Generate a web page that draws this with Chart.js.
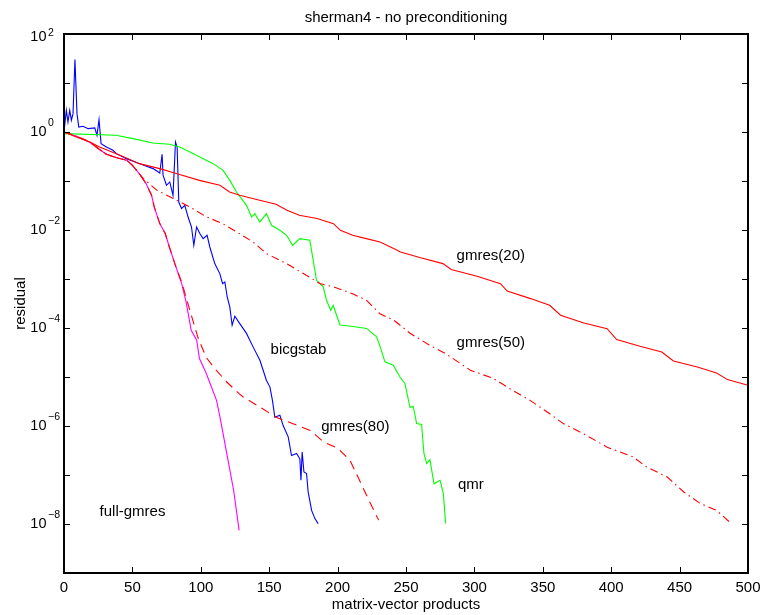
<!DOCTYPE html>
<html>
<head>
<meta charset="utf-8">
<title>sherman4 - no preconditioning</title>
<script src="https://cdn.jsdelivr.net/npm/chart.js@4/dist/chart.umd.min.js"></script>
<style>
  html, body { margin: 0; padding: 0; background: #fff; }
  canvas { display: block; }
</style>
</head>
<body>
<canvas id="grafico-residuo" width="762" height="615"></canvas>
<script>
// Ticks dos eixos
const ticksX = [0, 50, 100, 150, 200, 250, 300, 350, 400, 450, 500];
const decadasY = [1, -1, -3, -5, -7]; // ticks sem rotulo
const expoentesRotulados = [2, 0, -2, -4, -6, -8];

// full-gmres
const xFullGmres = [0, 9, 16, 21, 26, 31, 38, 46, 50, 55, 60, 64, 66, 70, 74, 77, 81, 86, 89, 93, 97, 99, 103, 105, 111.5, 114, 119, 124, 128];
const resFullGmres = [1, 0.817, 0.678, 0.561, 0.438, 0.351, 0.301, 0.264, 0.209, 0.142, 0.0885, 0.0511, 0.0294, 0.0135, 0.00845, 0.0045, 0.00206, 8.05e-4, 3.67e-4, 8.97e-5, 5.62e-5, 2.38e-5, 1.38e-5, 1.0e-5, 3.34e-6, 1.53e-6, 2.74e-7, 4.88e-8, 7.43e-9];

// gmres(80)
const xGmres80 = [0, 9, 16, 21, 26, 31, 38, 46, 50, 55, 60, 64, 66, 70, 74, 77, 81, 86, 92, 98, 104, 110, 119, 128, 131, 143, 155, 167, 180, 190, 200, 209, 216, 223, 230];
const resGmres80 = [1, 0.817, 0.678, 0.561, 0.438, 0.351, 0.301, 0.264, 0.209, 0.142, 0.0885, 0.0511, 0.0294, 0.0135, 0.00845, 0.0045, 0.00206, 8.7e-4, 2.29e-4, 6.3e-5, 2.5e-5, 1.51e-5, 7.9e-6, 4.57e-6, 3.9e-6, 2.45e-6, 1.51e-6, 1.12e-6, 8.1e-7, 4.68e-7, 3.55e-7, 2.0e-7, 7.8e-8, 3.0e-8, 1.2e-8];

// gmres(50)
const xGmres50 = [0, 9, 16, 21, 26, 31, 38, 46, 50, 55, 58, 68, 80, 92, 104, 116, 128, 138, 148, 163, 175, 187, 197, 211, 221, 231, 241, 253, 267, 279, 297, 314, 326, 341, 353, 365, 380, 397, 416, 426, 441, 453, 465, 477, 487];
const resGmres50 = [1, 0.817, 0.678, 0.561, 0.438, 0.351, 0.301, 0.264, 0.209, 0.142, 0.112, 0.0646, 0.0437, 0.0295, 0.0186, 0.0135, 0.0085, 0.00575, 0.00331, 0.00204, 0.00129, 8.1e-4, 6.9e-4, 5.0e-4, 3.7e-4, 1.95e-4, 1.45e-4, 7.8e-5, 4.5e-5, 3.0e-5, 1.38e-5, 9.3e-6, 5.75e-6, 3.3e-6, 1.95e-6, 1.12e-6, 6.9e-7, 3.7e-7, 2.34e-7, 1.45e-7, 9.1e-8, 4.5e-8, 2.63e-8, 1.9e-8, 1.07e-8];

// gmres(20)
const xGmres20 = [0, 9, 19, 26, 41, 55, 70, 82, 99, 114, 121, 128.5, 143, 155, 163, 172, 185, 197, 202, 211, 221, 231, 241, 246, 260, 277, 283, 302, 319, 324, 341, 355, 363, 380, 397, 404, 421, 437, 445.5, 463, 477, 485, 500];
const resGmres20 = [1, 0.79, 0.625, 0.494, 0.334, 0.226, 0.179, 0.142, 0.103, 0.0817, 0.0597, 0.0512, 0.0404, 0.0334, 0.0252, 0.020, 0.0171, 0.0135, 0.00986, 0.0078, 0.00667, 0.00569, 0.00417, 0.00356, 0.00274, 0.00206, 0.00156, 0.00114, 8.05e-4, 5.69e-4, 3.98e-4, 2.9e-4, 1.82e-4, 1.26e-4, 9.7e-5, 5.8e-5, 4.24e-5, 3.24e-5, 2.12e-5, 1.6e-5, 1.21e-5, 8.85e-6, 6.78e-6];

// bicgstab
const xBicgstab = [0, 1.7, 2.9, 4.2, 5.4, 6.6, 8, 9.5, 10.8, 13.9, 17.6, 22.5, 24.1, 25.6, 27.1, 31, 35.8, 38.3, 45.6, 55.4, 65.1, 70, 71.7, 72.4, 74.9, 77.3, 79.7, 81.5, 82.7, 83.9, 85.9, 88.3, 90.7, 93.2, 94.9, 96.9, 99.3, 101.7, 104.6, 106.6, 110.2, 113.9, 115.9, 117.6, 119.3, 121.2, 122.9, 124.9, 128.5, 133.4, 138.3, 143.2, 148, 150.5, 152.4, 154.1, 157.8, 160.2, 163.9, 166.3, 170, 172.4, 173.2, 174.1, 175.4, 177.3, 178.5, 181, 183.4, 185.8];
const resBicgstab = [1, 2.77, 1.6, 2.77, 1.74, 2.37, 30.1, 2.37, 1.26, 1.31, 1.17, 1.21, 0.857, 1.79, 0.579, 0.494, 0.424, 0.362, 0.286, 0.226, 0.179, 0.146, 0.351, 0.131, 0.0817, 0.0955, 0.051, 0.625, 0.494, 0.0372, 0.0274, 0.0319, 0.0184, 0.0115, 0.00488, 0.0115, 0.00845, 0.00667, 0.0078, 0.0045, 0.00206, 0.00129, 8.05e-4, 8.7e-4, 4.3e-4, 2.69e-4, 1.14e-4, 1.74e-4, 1.23e-4, 7.76e-5, 4.07e-5, 2.19e-5, 8.5e-6, 6.3e-6, 3.3e-6, 1.51e-6, 1.66e-6, 1.02e-6, 6.0e-7, 2.5e-7, 2.75e-7, 2.14e-7, 7.8e-8, 2.95e-7, 1.15e-7, 1.07e-7, 4.47e-8, 1.9e-8, 1.29e-8, 1.02e-8];

// qmr
const xQmr = [0, 38, 50.5, 65, 77, 84.6, 89.5, 99.3, 109, 116.3, 121.2, 126.1, 133.4, 137.1, 139.5, 143.2, 148, 151.7, 157.8, 162.7, 167.1, 172.4, 179.7, 184.6, 189.5, 191.9, 195, 196.8, 201.7, 211.4, 221.2, 228.5, 231, 234.6, 240.7, 245.6, 249.2, 252.9, 255.3, 257.8, 261.4, 263.1, 265.1, 267.5, 270.5, 274.9, 277.3, 279];
const resQmr = [0.927, 0.857, 0.733, 0.597, 0.561, 0.494, 0.424, 0.309, 0.226, 0.165, 0.103, 0.0597, 0.0319, 0.0184, 0.0216, 0.0146, 0.0216, 0.0125, 0.00986, 0.0078, 0.00488, 0.00667, 0.00617, 9.4e-4, 6.9e-4, 3.67e-4, 2.29e-4, 2.88e-4, 1.15e-4, 1.07e-4, 9.8e-5, 6.6e-5, 4.27e-5, 2.04e-5, 1.74e-5, 1.0e-5, 7.4e-6, 2.4e-6, 2.51e-6, 1.12e-6, 1.07e-6, 2.75e-7, 1.7e-7, 2.04e-7, 6.6e-8, 7.8e-8, 4.17e-8, 1.02e-8];

// Rotulos escritos dentro do grafico (em coordenadas dos dados)
const anotacoes = [
  { texto: "gmres(20)", x: 287, y: 3.0e-3 },
  { texto: "gmres(50)", x: 287, y: 4.9e-5 },
  { texto: "bicgstab", x: 151, y: 3.6e-5 },
  { texto: "gmres(80)", x: 188, y: 9.5e-7 },
  { texto: "qmr", x: 288, y: 6.2e-8 },
  { texto: "full-gmres", x: 26, y: 1.75e-8 },
];

const fonte = "'Liberation Sans', Arial, Helvetica, sans-serif";

function pontos(xs, ys) {
  return xs.map((x, i) => ({ x: x, y: ys[i] }));
}

// Plugin: caixa estilo matlab, ticks para dentro, textos
const eixosMatlab = {
  id: "eixosMatlab",
  afterDraw(chart) {
    const ctx = chart.ctx;
    const a = chart.chartArea;
    const sx = chart.scales.x;
    const sy = chart.scales.y;
    ctx.save();
    ctx.strokeStyle = "#000";
    ctx.fillStyle = "#000";

    // ticks
    ctx.lineWidth = 1;
    ctx.beginPath();
    ticksX.forEach(function (v) {
      if (v === 0 || v === 500) return;
      const px = Math.round(sx.getPixelForValue(v)) + 0.5;
      ctx.moveTo(px, a.bottom);
      ctx.lineTo(px, a.bottom - 6);
      ctx.moveTo(px, a.top);
      ctx.lineTo(px, a.top + 6);
    });
    decadasY.concat(expoentesRotulados).forEach(function (e) {
      if (e === 2) return;
      const py = Math.round(sy.getPixelForValue(Math.pow(10, e))) + 0.5;
      ctx.moveTo(a.left, py);
      ctx.lineTo(a.left + 6, py);
      ctx.moveTo(a.right, py);
      ctx.lineTo(a.right - 6, py);
    });
    ctx.stroke();

    // caixa
    ctx.lineWidth = 2;
    ctx.strokeRect(a.left, a.top, a.right - a.left, a.bottom - a.top);

    // rotulos do eixo x
    ctx.font = "15px " + fonte;
    ctx.textAlign = "center";
    ctx.textBaseline = "alphabetic";
    ticksX.forEach(function (v) {
      ctx.fillText(String(v), sx.getPixelForValue(v), a.bottom + 19);
    });

    // rotulos do eixo y: 10 com expoente
    expoentesRotulados.forEach(function (e) {
      const py = sy.getPixelForValue(Math.pow(10, e));
      const base = e === 2 ? py + 7 : py + 3.5;
      ctx.font = "14.5px " + fonte;
      ctx.textAlign = "right";
      ctx.fillText("10", a.left - 17.5, base);
      ctx.font = "10.5px " + fonte;
      ctx.textAlign = "left";
      const exp = e < 0 ? "\u2212" + Math.abs(e) : String(e);
      ctx.fillText(exp, a.left - 16, e === 2 ? base - 5 : base - 10);
    });

    // titulos
    ctx.font = "15px " + fonte;
    ctx.textAlign = "center";
    const meio = (a.left + a.right) / 2;
    ctx.fillText("sherman4 - no preconditioning", meio, 22);
    ctx.fillText("matrix-vector products", meio, a.bottom + 36);
    ctx.save();
    ctx.translate(25, (a.top + a.bottom) / 2);
    ctx.rotate(-Math.PI / 2);
    ctx.fillText("residual", 0, 0);
    ctx.restore();

    // anotacoes das curvas
    ctx.textAlign = "left";
    ctx.textBaseline = "middle";
    anotacoes.forEach(function (n) {
      ctx.fillText(n.texto, sx.getPixelForValue(n.x), sy.getPixelForValue(n.y));
    });
    ctx.restore();
  },
};

function serie(rotulo, xs, ys, cor, tracejado, ordem) {
  return {
    label: rotulo,
    data: pontos(xs, ys),
    borderColor: cor,
    backgroundColor: cor,
    borderWidth: 1.1,
    borderDash: tracejado,
    pointRadius: 0,
    tension: 0,
    fill: false,
    order: ordem,
  };
}

function gerarGraficoResiduo() {
  const ctx = document.getElementById("grafico-residuo").getContext("2d");
  new Chart(ctx, {
    type: "line",
    data: {
      datasets: [
        serie("full-gmres", xFullGmres, resFullGmres, "#ff00ff", [], 6),
        serie("bicgstab", xBicgstab, resBicgstab, "#0000ff", [], 5),
        serie("qmr", xQmr, resQmr, "#00ff00", [], 4),
        serie("gmres(20)", xGmres20, resGmres20, "#ff0000", [], 3),
        serie("gmres(50)", xGmres50, resGmres50, "#ff0000", [8, 4, 1.5, 4], 2),
        serie("gmres(80)", xGmres80, resGmres80, "#ff0000", [9, 6], 1),
      ],
    },
    options: {
      responsive: false,
      animation: false,
      layout: { padding: { left: 64, top: 34, right: 14, bottom: 42 } },
      plugins: {
        legend: { display: false },
        tooltip: { enabled: false },
        title: { display: false },
      },
      scales: {
        x: { type: "linear", min: 0, max: 500, display: false },
        y: { type: "logarithmic", min: 1e-9, max: 100, display: false },
      },
    },
    plugins: [eixosMatlab],
  });
}

gerarGraficoResiduo();
</script>
</body>
</html>
